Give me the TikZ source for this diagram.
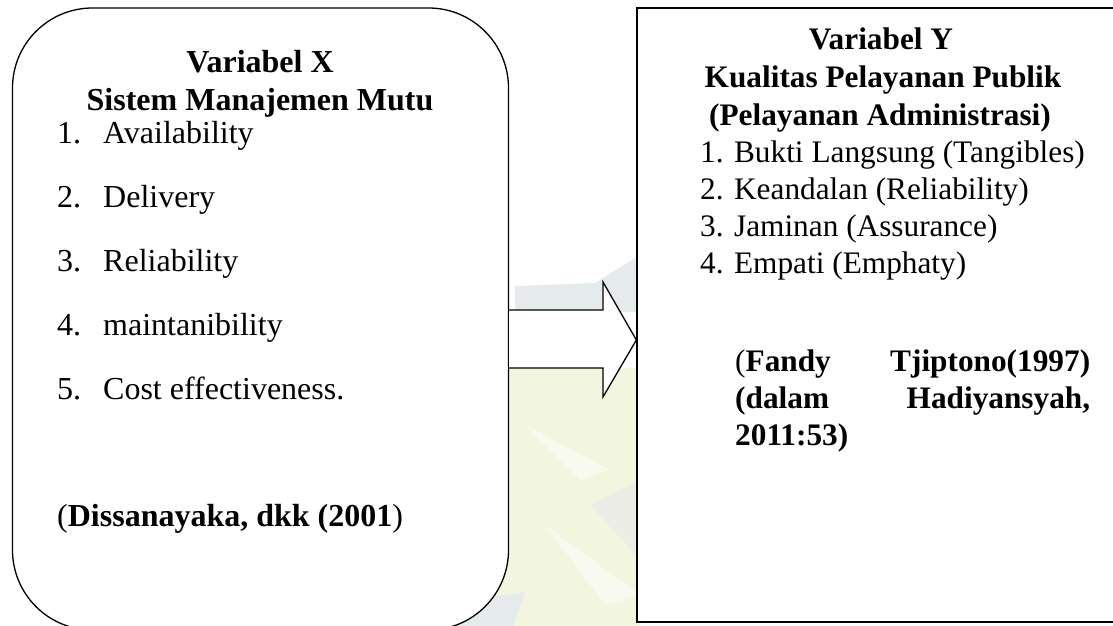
\documentclass[tikz,border=0pt]{standalone}
\usepackage{fontspec}
\setmainfont{Liberation Serif}
\definecolor{wmgreen}{HTML}{F3F6DE}
\definecolor{wmgrey}{HTML}{E5EBEC}
\definecolor{wmwhite}{HTML}{F8FAF0}
\definecolor{wmgrey2}{HTML}{ECEEE6}
\newcommand{\lsize}{\fontsize{32}{37}\selectfont}
\newcommand{\rsize}{\fontsize{31.3}{36}\selectfont}
\begin{document}
\begin{tikzpicture}[x=1pt,y=-1pt,
  boxline/.style={draw=black,line width=1.3pt,fill=white},
  ltitle/.style={anchor=base,inner sep=0pt,font=\lsize\bfseries},
  litem/.style={anchor=base west,inner sep=0pt,font=\lsize},
  rtitle/.style={anchor=base,inner sep=0pt,font=\rsize\bfseries},
  ritem/.style={anchor=base west,inner sep=0pt,font=\rsize}]
\useasboundingbox (0,0) rectangle (1113,626);
\clip (0,0) rectangle (1113,626);
% faint watermark in the background
\fill[wmgreen] (500,368) -- (640,368) -- (640,630) -- (440,630) -- (500,565) -- cycle;
\fill[wmgrey] (515,286) -- (595,283) -- (640,255) -- (640,312) -- (515,312) -- cycle;
\fill[wmwhite] (525,425) -- (610,470) -- (580,480) -- cycle;
\fill[wmwhite] (545,525) -- (640,595) -- (605,605) -- cycle;
\fill[wmgrey2] (590,505) -- (640,480) -- (640,560) -- cycle;
\fill[wmgrey] (440,605) -- (525,592) -- (512,630) -- (440,630) -- cycle;
% boxes
\node[boxline,rounded corners=80pt,minimum width=496pt,minimum height=622pt,inner sep=0pt] (lbox) at (260.5,319) {};
\node[boxline,minimum width=520pt,minimum height=614pt,inner sep=0pt] (rbox) at (897,315) {};
% block arrow from the left box to the right box
\coordinate (a1) at (lbox.east |- 0,310);
\coordinate (a2) at (603,310);
\coordinate (a3) at (603,282);
\coordinate (tip) at (rbox.west |- 0,340);
\coordinate (a5) at (603,397);
\coordinate (a6) at (603,368);
\coordinate (a7) at (lbox.east |- 0,368);
\fill[white] (a1) -- (a2) -- (a3) -- (tip) -- (a5) -- (a6) -- (a7) -- cycle;
\draw[line width=1.3pt,line join=miter] (a1) -- (a2) -- (a3) -- (tip) -- (a5) -- (a6) -- (a7);
% left box text
\node[ltitle] (xt1) at (260,72) {Variabel X};
\node[ltitle] (xt2) at (260,110) {Sistem Manajemen Mutu};
\node[litem] (xn1) at (57,143) {1.};
\node[litem] (xi1) at (103,143) {Availability};
\node[litem] (xn2) at (57,207) {2.};
\node[litem] (xi2) at (103,207) {Delivery};
\node[litem] (xn3) at (57,271) {3.};
\node[litem] (xi3) at (103,271) {Reliability};
\node[litem] (xn4) at (57,335) {4.};
\node[litem] (xi4) at (103,335) {maintanibility};
\node[litem] (xn5) at (57,399) {5.};
\node[litem] (xi5) at (103,399) {Cost effectiveness.};
\node[litem] (xsrc) at (57,526) {(\textbf{Dissanayaka, dkk (2001})};
% right box text
\node[rtitle] (yt1) at (881,50) {Variabel Y};
\node[rtitle] (yt2) at (883,88) {Kualitas Pelayanan Publik};
\node[rtitle] (yt3) at (880,125) {(Pelayanan Administrasi)};
\node[ritem] (yi1) at (700,162) {1. Bukti Langsung (Tangibles)};
\node[ritem] (yi2) at (700,199) {2. Keandalan (Reliability)};
\node[ritem] (yi3) at (700,236) {3. Jaminan (Assurance)};
\node[ritem] (yi4) at (700,273) {4. Empati (Emphaty)};
\node[ritem] (ys1) at (735,371) {\makebox[355pt][s]{(\textbf{Fandy}\hfill\textbf{Tjiptono(1997)}}};
\node[ritem] (ys2) at (735,408) {\makebox[355pt][s]{\textbf{(dalam}\hfill\textbf{Hadiyansyah,}}};
\node[ritem] (ys3) at (735,445) {\textbf{2011:53)}};
\end{tikzpicture}
\end{document}
